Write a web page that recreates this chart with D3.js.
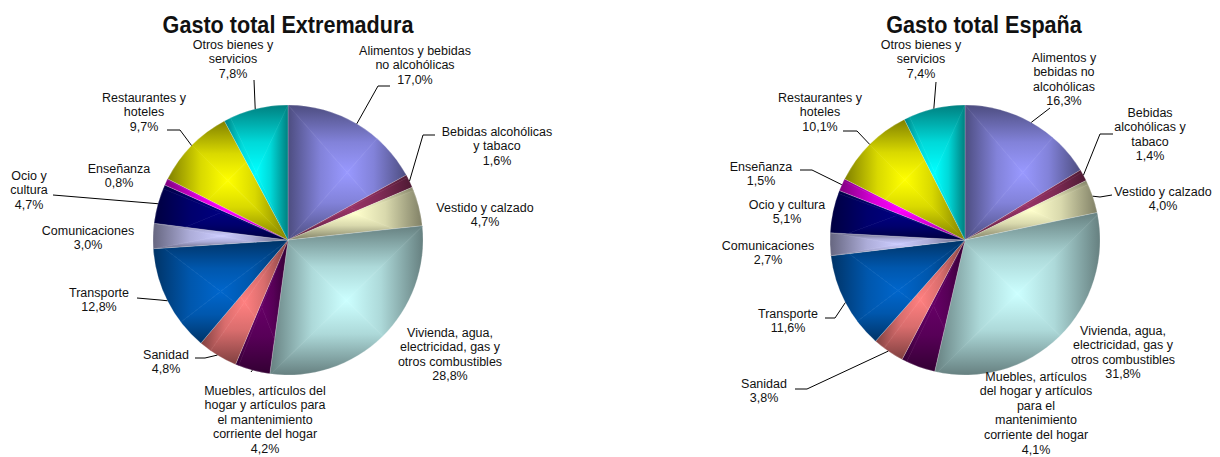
<!DOCTYPE html>
<html>
<head>
<meta charset="utf-8">
<script src="https://cdn.jsdelivr.net/npm/d3@7"></script>
<style>
  body { margin: 0; background: #fff; }
  .chart text { font-family: "Liberation Sans", Arial, sans-serif; fill: #111; }
  .slice-label { font-size: 12.5px; }
  .title { font-size: 24px; font-weight: bold; }
</style>
</head>
<body>
<div class="chart"></div>
<script>
const categories = [
  "Alimentos y bebidas no alcohólicas",
  "Bebidas alcohólicas y tabaco",
  "Vestido y calzado",
  "Vivienda, agua, electricidad, gas y otros combustibles",
  "Muebles, artículos del hogar y artículos para el mantenimiento corriente del hogar",
  "Sanidad",
  "Transporte",
  "Comunicaciones",
  "Ocio y cultura",
  "Enseñanza",
  "Restaurantes y hoteles",
  "Otros bienes y servicios"
]
const extremadura = [17.0, 1.6, 4.7, 28.8, 4.2, 4.8, 12.8, 3.0, 4.7, 0.8, 9.7, 7.8]
const espana = [16.3, 1.4, 4.0, 31.8, 4.1, 3.8, 11.6, 2.7, 5.1, 1.5, 10.1, 7.4]
const titles = ["Gasto total Extremadura", "Gasto total España"]

// how each category name is broken over lines in each chart
const linesExtremadura = [
  ["Alimentos y bebidas", "no alcohólicas"],
  ["Bebidas alcohólicas", "y tabaco"],
  ["Vestido y calzado"],
  ["Vivienda, agua,", "electricidad, gas y", "otros combustibles"],
  ["Muebles, artículos del", "hogar y artículos para", "el mantenimiento", "corriente del hogar"],
  ["Sanidad"],
  ["Transporte"],
  ["Comunicaciones"],
  ["Ocio y", "cultura"],
  ["Enseñanza"],
  ["Restaurantes y", "hoteles"],
  ["Otros bienes y", "servicios"]
]
const linesEspana = [
  ["Alimentos y", "bebidas no", "alcohólicas"],
  ["Bebidas", "alcohólicas y", "tabaco"],
  ["Vestido y calzado"],
  ["Vivienda, agua,", "electricidad, gas y", "otros combustibles"],
  ["Muebles, artículos", "del hogar y artículos", "para el", "mantenimiento", "corriente del hogar"],
  ["Sanidad"],
  ["Transporte"],
  ["Comunicaciones"],
  ["Ocio y cultura"],
  ["Enseñanza"],
  ["Restaurantes y", "hoteles"],
  ["Otros bienes y", "servicios"]
]

const sliceColors = [
  "#9999FF", "#993366", "#FFFFCC", "#CCFFFF", "#660066", "#FF8080",
  "#0066CC", "#CCCCFF", "#000080", "#FF00FF", "#FFFF00", "#00FFFF"
]

const drawChart = () => {
  const dimensions = { width: 1220, height: 457, radius: 135, lineHeight: 14.6 }

  // label anchor (centre x, first line y) and leader elbow points, relative to pie centre
  const charts = [
    {
      title: titles[0], values: extremadura, lines: linesExtremadura,
      cx: 288, cy: 240, titleX: 288,
      labels: [[127,-190],[209,-109],[197,-33],[162,92],[-23,150],[-122,114],
               [-189,52],[-200,-10],[-259,-65],[-169,-72],[-144,-143],[-55,-196]],
      leaders: [[[102,-154],[90,-154]], [[147,-105],[135,-105]], null, null,
                [[-37,132]], [[-93,118],[-83,118]], [[-151,58],[-128,60]], null,
                [[-235,-45]], null, [[-121,-110],[-108,-110]], [[-34,-160]]]
    },
    {
      title: titles[1], values: espana, lines: linesEspana,
      cx: 965, cy: 240, titleX: 984,
      labels: [[99,-183],[185,-128],[198,-49],[158,90],[71,136],[-201,143],
               [-177,73],[-197,5],[-178,-36],[-204,-74],[-145,-143],[-44,-196]],
      leaders: [[[85,-132]], [[148,-106],[135,-106]], [[147,-45],[135,-43]], null,
                null, [[-170,149],[-158,149]], [[-140,78],[-130,78]], null,
                null, [[-165,-70],[-153,-70]], [[-122,-109],[-108,-109]], [[-29,-158]]]
    }
  ]

  const locale = d3.formatLocale({ decimal: ",", thousands: ".", grouping: [3], currency: ["", "€"] })
  const pctFormat = d => locale.format(".1f")(d) + "%"

  const pie = d3.pie().sort(null).value(d => d)
  const arc = d3.arc().innerRadius(0).outerRadius(dimensions.radius)

  const svg = d3.select(".chart")
    .append("svg")
      .attr("width", dimensions.width)
      .attr("height", dimensions.height)

  const defs = svg.append("defs")

  const arcBounds = (d, r) => {
    const pts = [[0, 0]]
    const pt = a => [r * Math.sin(a), -r * Math.cos(a)]
    pts.push(pt(d.startAngle), pt(d.endAngle))
    for (let k = 0; k < 4; k++) {
      const a = k * Math.PI / 2
      if (a > d.startAngle && a < d.endAngle) pts.push(pt(a))
    }
    return {
      x0: d3.min(pts, p => p[0]), x1: d3.max(pts, p => p[0]),
      y0: d3.min(pts, p => p[1]), y1: d3.max(pts, p => p[1])
    }
  }

  charts.forEach((chart, ci) => {
    const bounds = svg.append("g")
        .attr("transform", `translate(${chart.cx},${chart.cy})`)

    const arcs = pie(chart.values)

    arcs.forEach((d, i) => {
      const id = `s${ci}-${i}`
      const base = d3.rgb(sliceColors[i])
      const dark = d3.rgb(base.r * 0.5, base.g * 0.5, base.b * 0.5)
      const b = arcBounds(d, dimensions.radius)
      const mx = (b.x0 + b.x1) / 2
      const my = (b.y0 + b.y1) / 2

      defs.append("clipPath")
          .attr("id", `clip-${id}`)
        .append("path")
          .attr("d", arc(d))

      // rectangular "from centre" gradient: four triangles meeting at the box centre
      const sides = [
        { name: "t", pts: [[b.x0, b.y0], [b.x1, b.y0], [mx, my]], from: [mx, b.y0] },
        { name: "r", pts: [[b.x1, b.y0], [b.x1, b.y1], [mx, my]], from: [b.x1, my] },
        { name: "b", pts: [[b.x1, b.y1], [b.x0, b.y1], [mx, my]], from: [mx, b.y1] },
        { name: "l", pts: [[b.x0, b.y1], [b.x0, b.y0], [mx, my]], from: [b.x0, my] }
      ]

      const g = bounds.append("g")
          .attr("clip-path", `url(#clip-${id})`)

      sides.forEach(s => {
        const grad = defs.append("linearGradient")
            .attr("id", `grad-${id}-${s.name}`)
            .attr("gradientUnits", "userSpaceOnUse")
            .attr("x1", s.from[0]).attr("y1", s.from[1])
            .attr("x2", mx).attr("y2", my)
        grad.append("stop").attr("offset", 0).attr("stop-color", dark)
        grad.append("stop").attr("offset", 0.55).attr("stop-color", d3.interpolateRgb(dark, base)(0.7))
        grad.append("stop").attr("offset", 1).attr("stop-color", base)

        g.append("polygon")
            .attr("points", s.pts.map(p => p.join(",")).join(" "))
            .attr("fill", `url(#grad-${id}-${s.name})`)
            .attr("stroke", `url(#grad-${id}-${s.name})`)
            .attr("stroke-width", 0.6)
      })

      bounds.append("path")
          .attr("d", arc(d))
          .attr("fill", "none")
          .attr("stroke", "rgba(255,255,255,0.35)")
          .attr("stroke-width", 0.6)
    })

    // leader lines
    const mid = d => (d.startAngle + d.endAngle) / 2
    arcs.forEach((d, i) => {
      const leader = chart.leaders[i]
      if (!leader) return
      const a = mid(d)
      const edge = [dimensions.radius * Math.sin(a), -dimensions.radius * Math.cos(a)]
      bounds.append("path")
          .attr("d", d3.line()([...leader, edge]))
          .attr("fill", "none")
          .attr("stroke", "#000")
          .attr("stroke-width", 1)
    })

    // labels
    arcs.forEach((d, i) => {
      const [lx, ly] = chart.labels[i]
      const lines = [...chart.lines[i], pctFormat(d.data)]
      const text = bounds.append("text")
          .attr("class", "slice-label")
          .attr("text-anchor", "middle")
      lines.forEach((line, k) => {
        text.append("tspan")
            .attr("x", lx)
            .attr("y", ly + k * dimensions.lineHeight + 4.5)
            .text(line)
      })
    })

    svg.append("text")
        .attr("class", "title")
        .attr("text-anchor", "middle")
        .attr("transform", `translate(${chart.titleX},33) scale(0.9,1)`)
        .text(chart.title)
  })
}
drawChart()
</script>
</body>
</html>
